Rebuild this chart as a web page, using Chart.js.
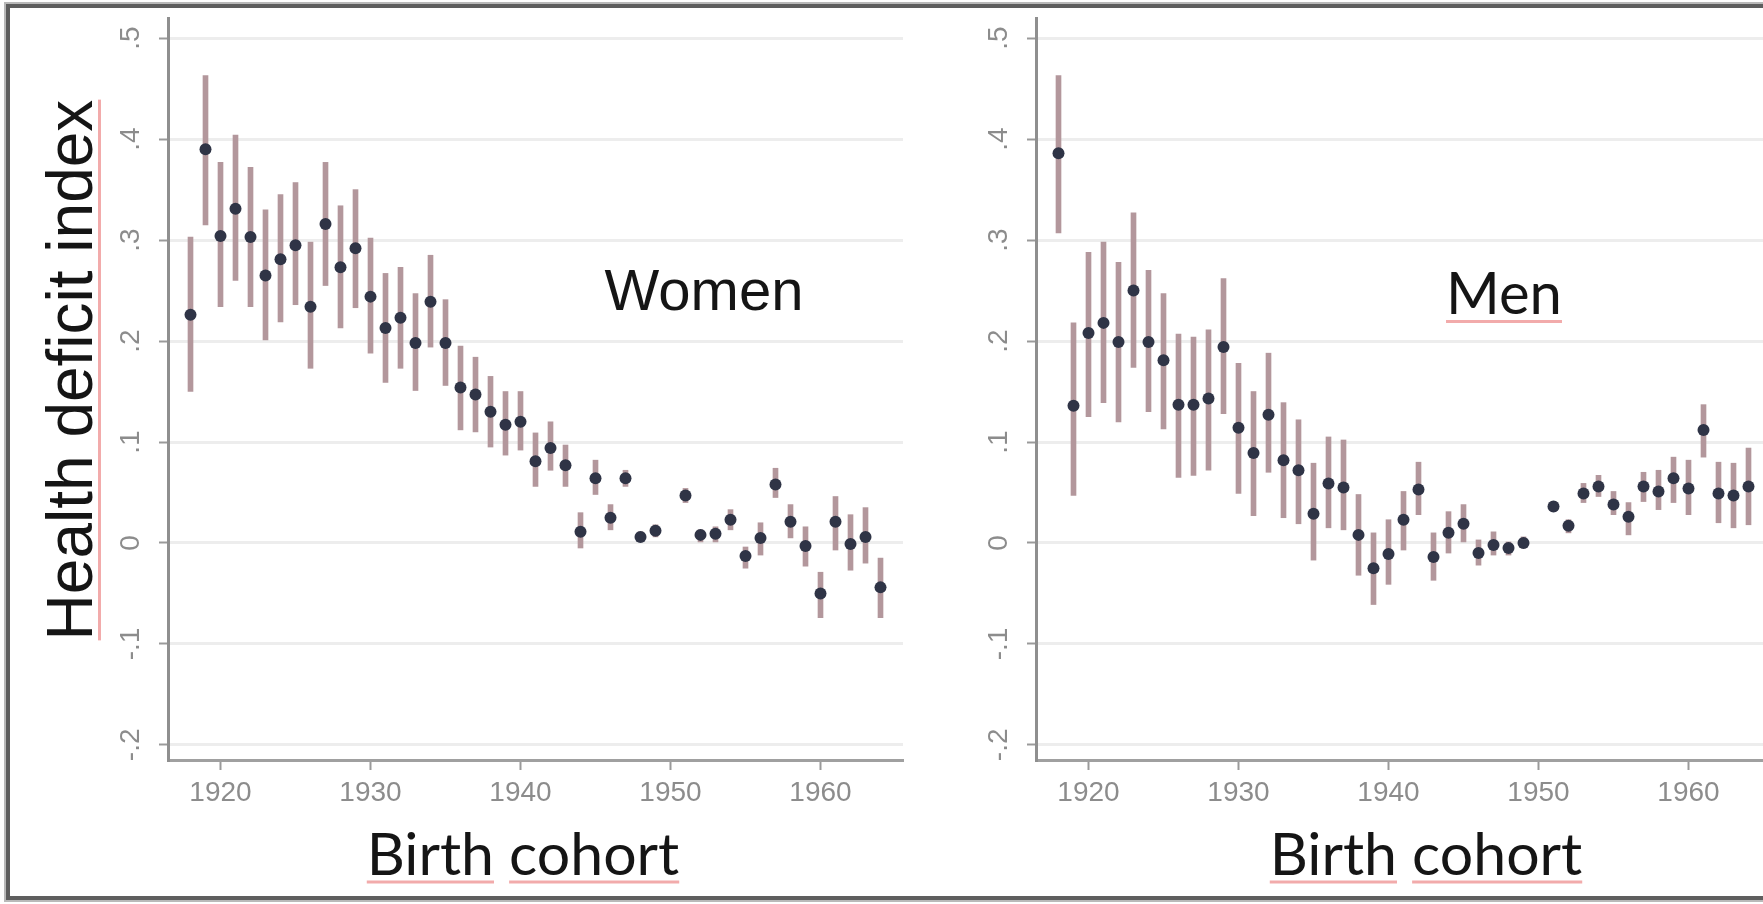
<!DOCTYPE html>
<html>
<head>
<meta charset="utf-8">
<script src="https://cdn.jsdelivr.net/npm/chart.js@4/dist/chart.umd.min.js"></script>
<style>
html,body{margin:0;padding:0;width:1763px;height:904px;overflow:hidden;background:#ffffff;}
#stage{position:relative;width:1763px;height:904px;overflow:hidden;background:#ffffff;}
canvas{position:absolute;top:0;}
#cL{left:0;}
#cR{left:930px;}
.frame{position:absolute;left:6px;top:4px;width:2000px;height:888px;border:4px solid #5e5e5e;box-shadow:0 0 0 2px #b9b9b9;pointer-events:none;}
.t{position:absolute;white-space:nowrap;line-height:1;color:#151515;transform:translate(-50%,-50%);}
.u{text-decoration-line:underline;text-decoration-color:#f2abab;text-decoration-thickness:3px;text-underline-offset:6px;text-decoration-skip-ink:none;}
</style>
</head>
<body>
<div id="stage">
  <canvas id="cL" width="960" height="904"></canvas>
  <canvas id="cR" width="900" height="904"></canvas>
  <div class="frame"></div>
  <div class="t" style="left:70px;top:370px;transform:translate(-50%,-50%) rotate(-90deg);font-family:'Liberation Sans';font-size:64px;"><span class="u">Health deficit index</span></div>
  <div class="t" style="left:704px;top:290px;font-family:'Liberation Sans';font-size:58px;">Women</div>
  <div class="t" style="left:1504px;top:292px;font-family:Lato;font-size:58px;"><span class="u">Men</span></div>
  <div class="t" style="left:523px;top:852px;font-family:Lato;font-size:59px;"><span class="u">Birth</span> <span class="u">cohort</span></div>
  <div class="t" style="left:1426px;top:852px;font-family:Lato;font-size:59px;"><span class="u">Birth</span> <span class="u">cohort</span></div>
</div>
<script>
// ---- data ----
const years = [1918,1919,1920,1921,1922,1923,1924,1925,1926,1927,1928,1929,1930,1931,1932,1933,1934,1935,1936,1937,1938,1939,1940,1941,1942,1943,1944,1945,1946,1947,1948,1949,1951,1952,1953,1954,1955,1956,1957,1958,1959,1960,1961,1962,1963,1964];

const womenEstimate = [0.226,0.390,0.304,0.331,0.303,0.265,0.281,0.295,0.234,0.316,0.273,0.292,0.244,0.213,0.223,0.198,0.239,0.198,0.154,0.147,0.130,0.117,0.120,0.081,0.094,0.077,0.011,0.064,0.025,0.064,0.006,0.012,0.047,0.008,0.009,0.023,-0.013,0.005,0.058,0.021,-0.003,-0.050,0.021,-0.001,0.006,-0.044];
const womenLower = [0.150,0.315,0.234,0.260,0.234,0.201,0.219,0.236,0.173,0.255,0.213,0.233,0.188,0.159,0.173,0.151,0.194,0.156,0.112,0.110,0.095,0.087,0.092,0.056,0.072,0.056,-0.005,0.048,0.013,0.056,0.000,0.006,0.040,0.001,0.001,0.013,-0.025,-0.012,0.045,0.005,-0.023,-0.074,-0.007,-0.027,-0.020,-0.074];
const womenUpper = [0.303,0.463,0.377,0.404,0.372,0.330,0.345,0.357,0.298,0.377,0.334,0.350,0.302,0.267,0.273,0.247,0.285,0.241,0.195,0.184,0.165,0.150,0.150,0.109,0.120,0.097,0.030,0.082,0.038,0.072,0.011,0.018,0.054,0.013,0.016,0.033,-0.004,0.020,0.074,0.038,0.016,-0.029,0.046,0.028,0.035,-0.015];

const menEstimate = [0.386,0.136,0.208,0.218,0.199,0.250,0.199,0.181,0.137,0.137,0.143,0.194,0.114,0.089,0.127,0.082,0.072,0.029,0.059,0.055,0.008,-0.025,-0.011,0.023,0.053,-0.014,0.010,0.019,-0.010,-0.002,-0.005,0.000,0.036,0.017,0.049,0.056,0.038,0.026,0.056,0.051,0.064,0.054,0.112,0.049,0.047,0.056];
const menLower = [0.307,0.047,0.125,0.139,0.120,0.174,0.130,0.113,0.065,0.067,0.072,0.128,0.049,0.027,0.070,0.025,0.019,-0.017,0.015,0.013,-0.032,-0.061,-0.041,-0.007,0.028,-0.037,-0.010,0.001,-0.022,-0.012,-0.012,-0.005,0.031,0.010,0.040,0.046,0.028,0.008,0.041,0.033,0.040,0.028,0.085,0.020,0.015,0.018];
const menUpper = [0.463,0.218,0.288,0.298,0.278,0.327,0.270,0.247,0.207,0.204,0.211,0.262,0.178,0.150,0.188,0.139,0.122,0.079,0.105,0.102,0.048,0.010,0.023,0.051,0.080,0.010,0.031,0.038,0.003,0.011,0.001,0.006,0.041,0.023,0.059,0.067,0.051,0.040,0.070,0.072,0.085,0.082,0.137,0.080,0.079,0.094];

const yTickValues = [-0.2,-0.1,0,0.1,0.2,0.3,0.4,0.5];
const yTickLabels = ['-.2','-.1','0','.1','.2','.3','.4','.5'];
const xTickValues = [1920,1930,1940,1950,1960];
const xTickLabels = ['1920','1930','1940','1950','1960'];

// ---- styling ----
const ERR_COLOR = '#b3979c';
const PT_COLOR = '#2f3446';
const TICK_FONT = {family:'Liberation Sans', size:28};
const TICK_COLOR = '#8c8c8c';

function makePanel(canvasId, est, lo, hi, yAxisWidth, padRight) {
  return new Chart(document.getElementById(canvasId), {
    type: 'scatter',
    data: {
      datasets: [
        {
          type: 'bar',
          data: years.map((yr, i) => ({x: yr, y: [lo[i], hi[i]]})),
          backgroundColor: ERR_COLOR,
          borderWidth: 0,
          barThickness: 5,
          order: 2
        },
        {
          type: 'scatter',
          data: years.map((yr, i) => ({x: yr, y: est[i]})),
          pointRadius: 6,
          pointHoverRadius: 6,
          pointStyle: 'circle',
          backgroundColor: PT_COLOR,
          borderWidth: 0,
          order: 1
        }
      ]
    },
    options: {
      responsive: false,
      animation: false,
      devicePixelRatio: 1,
      events: [],
      layout: {padding: {left: 0, top: 18, right: padRight, bottom: 0}},
      plugins: {legend: {display: false}, tooltip: {enabled: false}},
      scales: {
        x: {
          type: 'linear',
          min: 1916.5,
          max: 1965.5,
          offset: false,
          afterBuildTicks: s => { s.ticks = xTickValues.map(v => ({value: v})); },
          grid: {display: true, drawOnChartArea: false, drawTicks: true, tickLength: 10, tickColor: '#9a9a9a', tickWidth: 2, offset: false},
          border: {display: true, color: '#a0a0a0', width: 3},
          ticks: {
            callback: v => { const k = xTickValues.indexOf(v); return k >= 0 ? xTickLabels[k] : ''; },
            font: TICK_FONT, color: TICK_COLOR, padding: 6,
            minRotation: 0, maxRotation: 0, autoSkip: false
          },
          afterFit: s => { s.height = 904 - 760; s.paddingLeft = 0; s.paddingRight = 0; }
        },
        y: {
          type: 'linear',
          min: -0.215,
          max: 0.52,
          afterBuildTicks: s => { s.ticks = yTickValues.map(v => ({value: v})); },
          grid: {color: '#ededed', lineWidth: 3, drawTicks: true, tickLength: 9, tickColor: '#9a9a9a', tickWidth: 2},
          border: {display: true, color: '#8f8f8f', width: 3},
          ticks: {
            callback: v => { const k = yTickValues.indexOf(v); return k >= 0 ? yTickLabels[k] : ''; },
            font: TICK_FONT, color: TICK_COLOR, padding: 11,
            minRotation: 90, maxRotation: 90, crossAlign: 'center', autoSkip: false
          },
          afterFit: s => { s.width = yAxisWidth; s.paddingTop = 0; s.paddingBottom = 0; }
        }
      }
    }
  });
}

makePanel('cL', womenEstimate, womenLower, womenUpper, 168, 57);
makePanel('cR', menEstimate, menLower, menUpper, 106, 59);
</script>
</body>
</html>
